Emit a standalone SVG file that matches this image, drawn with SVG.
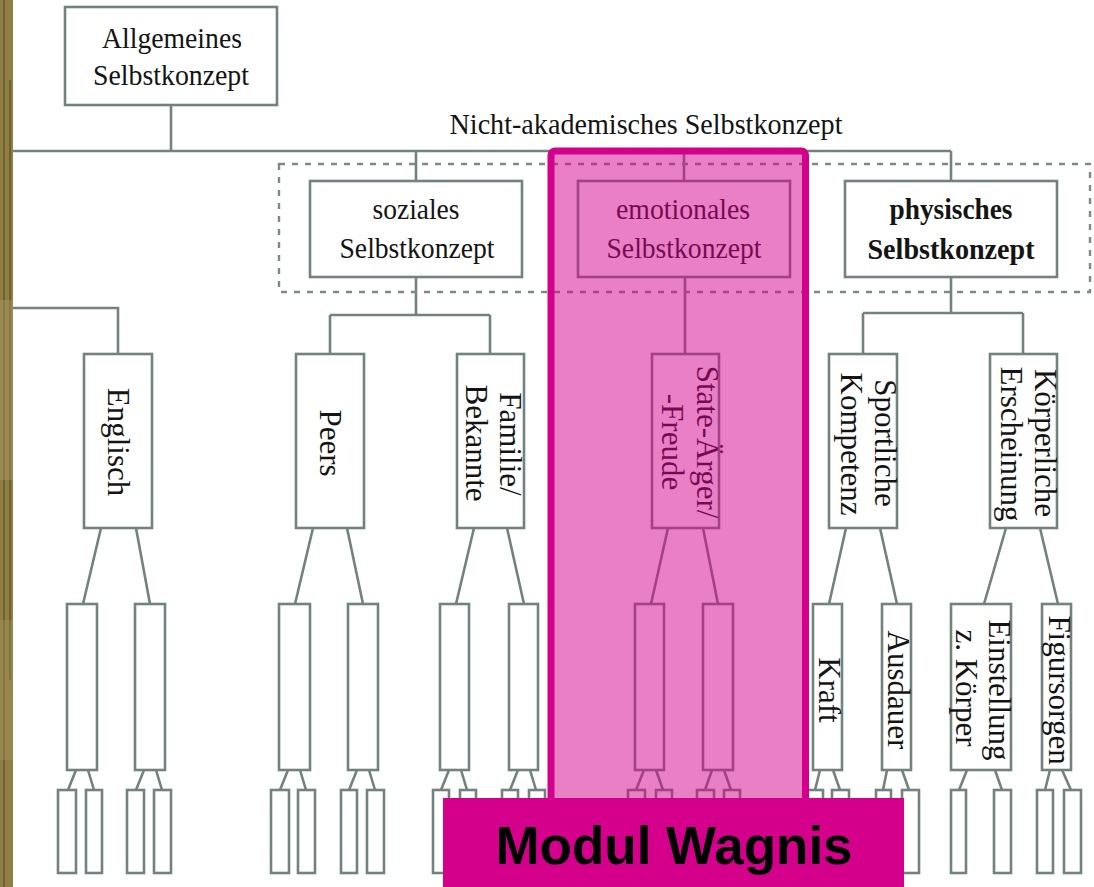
<svg xmlns="http://www.w3.org/2000/svg" width="1094" height="887" viewBox="0 0 1094 887">
  <style>
    .box { fill: #ffffff; stroke: #72827c; stroke-width: 2.6; }
    .line { fill: none; stroke: #72827c; stroke-width: 2.6; }
    .lbl { font-family: "Liberation Serif", "Times New Roman", serif; font-size: 30px; fill: #141414; text-anchor: middle; }
    .bold { font-weight: bold; }
    .vlbl { font-family: "Liberation Serif", "Times New Roman", serif; font-size: 31px; fill: #141414; text-anchor: middle; }
  </style>

  <!-- page background and wooden edge on the left -->
  <rect x="0" y="0" width="1094" height="887" fill="#ffffff"/>
  <g id="wood-edge">
    <rect x="0" y="0" width="13" height="887" fill="#8f7f45"/>
    <rect x="3" y="0" width="2" height="887" fill="#5e4f22" opacity="0.6"/>
    <rect x="9" y="80" width="2" height="600" fill="#4e4018" opacity="0.5"/>
    <rect x="0" y="300" width="13" height="180" fill="#a89a62" opacity="0.45"/>
    <rect x="0" y="620" width="13" height="140" fill="#a39359" opacity="0.4"/>
  </g>

  <!-- connectors -->
  <g id="connectors">
    <path class="line" d="M171,106 V151 M13,151 H951"/>
    <path class="line" d="M416,151 V181 M684,151 V181 M951,151 V181"/>
    <path class="line" d="M13,308 H118 V354"/>
    <path class="line" d="M416,277 V315 M330,315 H490 M330,315 V354 M490,315 V354"/>
    <path class="line" d="M685,277 V354"/>
    <path class="line" d="M951,277 V313 M863,313 H1023 M863,313 V354 M1023,313 V354"/>
    <!-- second level to third level -->
    <path class="line" d="M101,528 L83,604 M136,528 L150,604"/>
    <path class="line" d="M313,528 L295,604 M347,528 L363,604"/>
    <path class="line" d="M474,528 L456,604 M507,528 L524,604"/>
    <path class="line" d="M668,528 L651,604 M703,528 L718,604"/>
    <path class="line" d="M846,528 L829,604 M880,528 L897,604"/>
    <path class="line" d="M1006,528 L984,604 M1040,528 L1058,604"/>
    <!-- third level to fourth level -->
    <path class="line" d="M76,770 L68,790 M88,770 L94,790"/>
    <path class="line" d="M144,770 L136,790 M156,770 L162,790"/>
    <path class="line" d="M288,770 L280,790 M300,770 L306,790"/>
    <path class="line" d="M357,770 L349,790 M369,770 L375,790"/>
    <path class="line" d="M449,770 L441,790 M461,770 L467,790"/>
    <path class="line" d="M518,770 L510,790 M530,770 L536,790"/>
    <path class="line" d="M644,770 L636,790 M656,770 L663,790"/>
    <path class="line" d="M712,770 L705,790 M724,770 L731,790"/>
    <path class="line" d="M820,770 L815,790 M833,770 L840,790"/>
    <path class="line" d="M887,770 L883,790 M902,770 L909,790"/>
    <path class="line" d="M967,770 L959,790 M995,770 L1002,790"/>
    <path class="line" d="M1050,770 L1045,790 M1062,770 L1071,790"/>
  </g>

  <!-- dashed frame around the non-academic facets -->
  <rect id="non-academic-frame" x="279" y="164" width="811" height="128" fill="none" stroke="#7d8a85" stroke-width="2.4" stroke-dasharray="6 7"/>
  <text class="lbl" x="646" y="134" textLength="393" lengthAdjust="spacingAndGlyphs">Nicht-akademisches Selbstkonzept</text>

  <g id="allgemeines">
    <rect class="box" x="65" y="7" width="212" height="98"/>
    <text class="lbl" x="172" y="48" textLength="140" lengthAdjust="spacingAndGlyphs">Allgemeines</text>
    <text class="lbl" x="171" y="85" textLength="156" lengthAdjust="spacingAndGlyphs">Selbstkonzept</text>
  </g>

  <g id="soziales">
    <rect class="box" x="310" y="181" width="212" height="96"/>
    <text class="lbl" x="416" y="219" textLength="87" lengthAdjust="spacingAndGlyphs">soziales</text>
    <text class="lbl" x="417" y="258" textLength="155" lengthAdjust="spacingAndGlyphs">Selbstkonzept</text>
  </g>

  <g id="emotionales">
    <rect class="box" x="578" y="181" width="212" height="96"/>
    <text class="lbl" x="683" y="219" textLength="134" lengthAdjust="spacingAndGlyphs">emotionales</text>
    <text class="lbl" x="684" y="258" textLength="155" lengthAdjust="spacingAndGlyphs">Selbstkonzept</text>
  </g>

  <g id="physisches">
    <rect class="box" x="845" y="181" width="212" height="96"/>
    <text class="lbl bold" x="951" y="219" textLength="123" lengthAdjust="spacingAndGlyphs">physisches</text>
    <text class="lbl bold" x="951" y="259" textLength="167" lengthAdjust="spacingAndGlyphs">Selbstkonzept</text>
  </g>

  <!-- second level facets (rotated labels) -->
  <g id="englisch">
    <rect class="box" x="84" y="354" width="68" height="174"/>
    <text class="vlbl" transform="translate(108,442) rotate(90)">Englisch</text>
  </g>
  <g id="peers">
    <rect class="box" x="296" y="354" width="68" height="174"/>
    <text class="vlbl" transform="translate(320,443) rotate(90)">Peers</text>
  </g>
  <g id="familie">
    <rect class="box" x="457" y="354" width="67" height="174"/>
    <text class="vlbl" transform="translate(500,444) rotate(90)">Familie/</text>
    <text class="vlbl" transform="translate(466,443) rotate(90)">Bekannte</text>
  </g>
  <g id="state">
    <rect class="box" x="652" y="354" width="67" height="174"/>
    <text class="vlbl" transform="translate(697,442) rotate(90)">State-Ärger/</text>
    <text class="vlbl" transform="translate(662,442) rotate(90)">-Freude</text>
  </g>
  <g id="sportliche">
    <rect class="box" x="829" y="354" width="68" height="174"/>
    <text class="vlbl" transform="translate(875,443) rotate(90)">Sportliche</text>
    <text class="vlbl" transform="translate(841,444) rotate(90)">Kompetenz</text>
  </g>
  <g id="koerperliche">
    <rect class="box" x="990" y="354" width="67" height="174"/>
    <text class="vlbl" transform="translate(1035,443) rotate(90)">Körperliche</text>
    <text class="vlbl" transform="translate(1001,444) rotate(90)">Erscheinung</text>
  </g>

  <!-- third level facets -->
  <g id="englisch-a"><rect class="box" x="67" y="604" width="30" height="166"/></g>
  <g id="englisch-b"><rect class="box" x="135" y="604" width="30" height="166"/></g>
  <g id="peers-a"><rect class="box" x="279" y="604" width="31" height="166"/></g>
  <g id="peers-b"><rect class="box" x="348" y="604" width="30" height="166"/></g>
  <g id="familie-a"><rect class="box" x="440" y="604" width="29" height="166"/></g>
  <g id="familie-b"><rect class="box" x="509" y="604" width="29" height="166"/></g>
  <g id="state-a"><rect class="box" x="635" y="604" width="29" height="166"/></g>
  <g id="state-b"><rect class="box" x="703" y="604" width="30" height="166"/></g>
  <g id="kraft">
    <rect class="box" x="813" y="604" width="29" height="166"/>
    <text class="vlbl" transform="translate(819,690) rotate(90)">Kraft</text>
  </g>
  <g id="ausdauer">
    <rect class="box" x="882" y="604" width="29" height="166"/>
    <text class="vlbl" transform="translate(888,690) rotate(90)">Ausdauer</text>
  </g>
  <g id="einstellung">
    <rect class="box" x="951" y="604" width="60" height="166"/>
    <text class="vlbl" transform="translate(989,690) rotate(90)">Einstellung</text>
    <text class="vlbl" transform="translate(956,688) rotate(90)">z. Körper</text>
  </g>
  <g id="figursorgen">
    <rect class="box" x="1042" y="604" width="29" height="166"/>
    <text class="vlbl" transform="translate(1049,690) rotate(90)">Figursorgen</text>
  </g>

  <!-- fourth level facets -->
  <g id="leaves">
    <rect class="box" x="58" y="790" width="18" height="83"/>
    <rect class="box" x="86" y="790" width="16" height="83"/>
    <rect class="box" x="127" y="790" width="17" height="83"/>
    <rect class="box" x="154" y="790" width="17" height="83"/>
    <rect class="box" x="271" y="790" width="18" height="83"/>
    <rect class="box" x="298" y="790" width="17" height="83"/>
    <rect class="box" x="341" y="790" width="16" height="83"/>
    <rect class="box" x="367" y="790" width="17" height="83"/>
    <rect class="box" x="433" y="790" width="16" height="83"/>
    <rect class="box" x="460" y="790" width="16" height="83"/>
    <rect class="box" x="502" y="790" width="16" height="83"/>
    <rect class="box" x="529" y="790" width="16" height="83"/>
    <rect class="box" x="628" y="790" width="17" height="83"/>
    <rect class="box" x="656" y="790" width="16" height="83"/>
    <rect class="box" x="697" y="790" width="17" height="83"/>
    <rect class="box" x="724" y="790" width="16" height="83"/>
    <rect class="box" x="806" y="790" width="17" height="83"/>
    <rect class="box" x="832" y="790" width="17" height="83"/>
    <rect class="box" x="876" y="790" width="15" height="83"/>
    <rect class="box" x="902" y="790" width="17" height="83"/>
    <rect class="box" x="951" y="790" width="15" height="83"/>
    <rect class="box" x="994" y="790" width="17" height="83"/>
    <rect class="box" x="1037" y="790" width="16" height="83"/>
    <rect class="box" x="1064" y="790" width="17" height="83"/>
  </g>

  <!-- highlight over the emotional branch -->
  <g id="highlight">
    <rect x="551" y="151" width="254.5" height="680" rx="4" fill="#d4008c" fill-opacity="0.5" stroke="#d4008c" stroke-width="7"/>
  </g>

  <g id="modul-wagnis">
    <rect x="443" y="798" width="461" height="95" fill="#d4008c"/>
    <text x="674" y="864" font-family="'Liberation Sans', Arial, sans-serif" font-size="53" font-weight="bold" fill="#000000" text-anchor="middle">Modul Wagnis</text>
  </g>
</svg>
